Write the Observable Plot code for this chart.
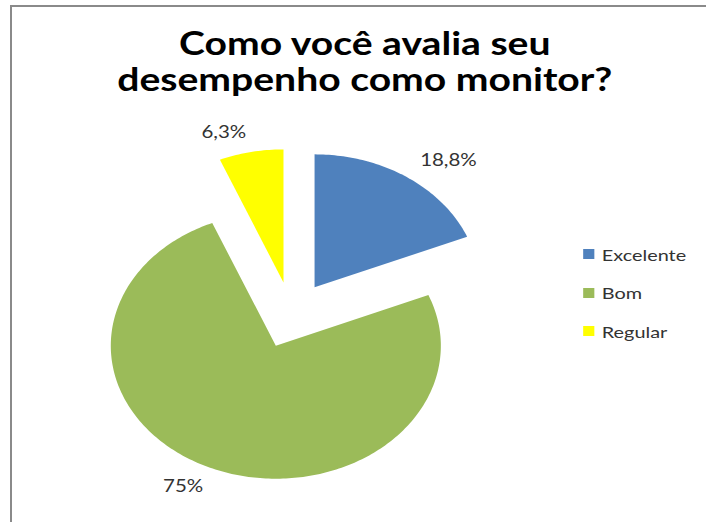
<!DOCTYPE html>
<html>
<head>
<meta charset="utf-8">
<script src="https://cdn.jsdelivr.net/npm/d3@7"></script>
<script src="https://cdn.jsdelivr.net/npm/@observablehq/plot@0.6"></script>
<style>
  html, body { margin: 0; padding: 0; background: #fff; overflow: hidden; }
  body { width: 706px; height: 522px; position: relative; }
  #frame { position: absolute; left: 10px; top: 5px; width: 900px; height: 700px;
           border-left: 2px solid #8a8a8a; border-top: 2px solid #8a8a8a; }
  #stage { position: absolute; left: 0; top: 0; width: 569px; height: 522px;
           transform: scaleX(1.2408); transform-origin: 0 0; }
  #stage svg { position: absolute; left: 0; top: 0; }
  #title { position: absolute; left: 0; top: 25px; width: 588px; text-align: center;
           font-family: Lato, sans-serif; font-weight: 700; font-size: 31.5px; line-height: 36px; color: #000; }
  .leg { position: absolute; left: 470px; font-family: Lato, sans-serif; font-size: 16px; color: #333;
         display: flex; align-items: center; height: 20px; }
  .leg span.sw { display: inline-block; width: 9px; height: 10px; margin-right: 6px; }
</style>
</head>
<body>
<div id="frame"></div>
<div id="stage">
  <div id="title">Como você avalia seu<br>desempenho como monitor?</div>
</div>
<script>
const categories = ["Excelente", "Bom", "Regular"];
const values = [18.8, 75, 6.3];
const valueLabels = ["18,8%", "75%", "6,3%"];
const colors = ["#4F81BD", "#9BBB59", "#FFFF00"];

// layout (unstretched coordinates)
const cx = 234.5, cy = 314.5, R = 133;
const explode = 0.25, labelRadius = 1.40;

const arcs = d3.pie().sort(null).value(d => d)(values);

const slices = arcs.map((a, i) => {
  const mid = (a.startAngle + a.endAngle) / 2;
  const ox = explode * Math.sin(mid), oy = explode * Math.cos(mid);
  const pts = [{x: ox, y: oy}];
  const n = Math.max(8, Math.ceil((a.endAngle - a.startAngle) / (Math.PI / 180)));
  for (let k = 0; k <= n; k++) {
    const t = a.startAngle + (a.endAngle - a.startAngle) * k / n;
    pts.push({x: ox + Math.sin(t), y: oy + Math.cos(t)});
  }
  return {points: pts, color: colors[i]};
});

const labels = arcs.map((a, i) => {
  const mid = (a.startAngle + a.endAngle) / 2;
  return {x: labelRadius * Math.sin(mid), y: labelRadius * Math.cos(mid), text: valueLabels[i]};
});

const textStyle = {fontSize: 16.5, fill: "#333", fontFamily: "Lato, sans-serif", lineAnchor: "middle"};

const chart = Plot.plot({
  width: 569,
  height: 522,
  margin: 0,
  style: {background: "transparent", overflow: "visible"},
  x: {domain: [-1, 1], range: [cx - R, cx + R], axis: null},
  y: {domain: [-1, 1], range: [cy + R, cy - R], axis: null},
  marks: [
    ...slices.map(s => Plot.line(s.points, {x: "x", y: "y", fill: s.color, stroke: "none", curve: "linear-closed"})),
    Plot.text(labels.filter(d => d.x >= 0), {x: "x", y: "y", text: "text", textAnchor: "start", ...textStyle}),
    Plot.text(labels.filter(d => d.x < 0), {x: "x", y: "y", text: "text", textAnchor: "end", ...textStyle})
  ]
});
const stage = document.getElementById("stage");
stage.insertBefore(chart, stage.firstChild);

// legend
const legendTop = 244, legendStep = 38.7;
categories.forEach((c, i) => {
  const d = document.createElement("div");
  d.className = "leg";
  d.style.top = (legendTop + i * legendStep) + "px";
  d.innerHTML = `<span class="sw" style="background:${colors[i]}"></span><span>${c}</span>`;
  stage.appendChild(d);
});
</script>
</body>
</html>
